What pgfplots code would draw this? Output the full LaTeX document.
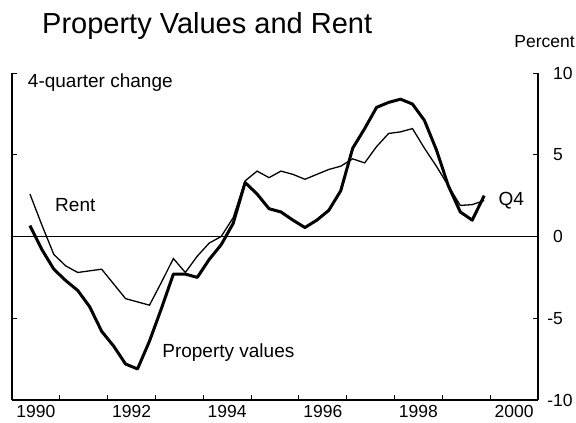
\documentclass[border=0pt]{standalone}
\usepackage{fontspec}
\setmainfont{Liberation Sans}
\usepackage{pgfplots}
\pgfplotsset{compat=1.18}

% quarterly 4-quarter change, 1990Q2 - 1999Q4
\pgfplotstableread{
t        prop   rent
1990.375  0.67  2.6
1990.625 -0.8   0.7
1990.875 -2.0  -1.1
1991.125 -2.7  -1.8
1991.375 -3.3  -2.2
1991.625 -4.3  -2.1
1991.875 -5.8  -2.0
1992.125 -6.7  -2.9
1992.375 -7.8  -3.8
1992.625 -8.1  -4.0
1992.875 -6.4  -4.2
1993.125 -4.4  -2.8
1993.375 -2.3  -1.35
1993.625 -2.3  -2.2
1993.875 -2.5  -1.2
1994.125 -1.4  -0.4
1994.375 -0.5   0.0
1994.625  0.8   1.15
1994.875  3.3   3.4
1995.125  2.6   4.0
1995.375  1.7   3.6
1995.625  1.5   4.0
1995.875  1.0   3.8
1996.125  0.55  3.5
1996.375  1.0   3.8
1996.625  1.6   4.1
1996.875  2.8   4.3
1997.125  5.4   4.75
1997.375  6.6   4.5
1997.625  7.9   5.5
1997.875  8.2   6.3
1998.125  8.4   6.4
1998.375  8.1   6.6
1998.625  7.1   5.4
1998.875  5.3   4.3
1999.125  3.1   3.1
1999.375  1.5   1.9
1999.625  1.0   1.95
1999.875  2.5   2.2
}\datatable

\begin{document}
\begin{tikzpicture}
\useasboundingbox (0,0) rectangle (576pt,-423pt);
\node[anchor=base west, inner sep=0pt, font=\fontsize{29}{29}\selectfont] at (42pt,-33pt) {Property Values and Rent};
\node[anchor=base east, inner sep=0pt, font=\fontsize{17.5}{17.5}\selectfont] at (575pt,-47pt) {Percent};
\begin{axis}[
  at={(12pt,-400pt)}, anchor=south west,
  scale only axis, width=526pt, height=327pt,
  xmin=1990, xmax=2001, ymin=-10, ymax=10,
  axis x line=bottom, axis y line=box,
  axis line style={-, line width=1.6pt},
  tick align=inside,
  major tick length=5pt,
  tick style={line width=1pt, black},
  xtick={1990,...,2001}, xticklabels={},
  extra x ticks={1990.5,1992.5,1994.5,1996.5,1998.5,2000.5},
  extra x tick labels={1990,1992,1994,1996,1998,2000},
  extra x tick style={major tick length=0pt},
  xticklabel style={inner sep=0pt, anchor=north, yshift=-5pt},
  ytick={-10,-5,0,5,10},
  yticklabels={\llap{-}10,\llap{-}5,0,5,10},
  yticklabel pos=right,
  yticklabel style={anchor=west, inner sep=0pt, xshift=15pt},
  tick label style={font=\fontsize{17.5}{17.5}\selectfont},
  clip=false,
]
\addplot[line width=1.1pt] coordinates {(1990,0) (2001,0)};
\addplot[line width=1.3pt] table[x=t, y=rent] {\datatable};
\addplot[line width=3pt, line join=round] table[x=t, y=prop] {\datatable};
\node[anchor=west, inner sep=0pt, font=\fontsize{19}{19}\selectfont] at (axis cs:1990.33,9.4) {4-quarter change};
\node[anchor=west, inner sep=0pt, font=\fontsize{19}{19}\selectfont] at (axis cs:1990.9,1.9) {Rent};
\node[anchor=west, inner sep=0pt, font=\fontsize{19}{19}\selectfont] at (axis cs:1993.14,-7.07) {Property values};
\node[anchor=west, inner sep=0pt, font=\fontsize{19}{19}\selectfont] at (axis cs:2000.17,2.2) {Q4};
\end{axis}
\end{tikzpicture}
\end{document}
